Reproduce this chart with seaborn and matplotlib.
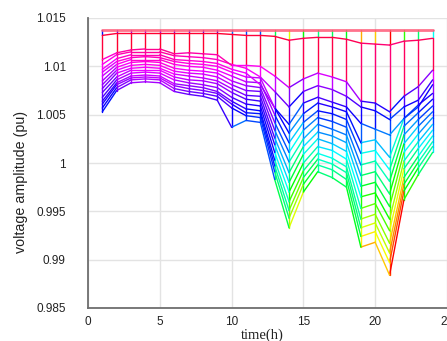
import matplotlib
matplotlib.use("Agg")
import matplotlib.pyplot as plt
import seaborn as sns
import pandas as pd

# ---- data ----
hours = [1, 2, 3, 4, 5, 6, 7, 8, 9, 10, 11, 12, 13, 14, 15, 16, 17, 18, 19, 20, 21, 22, 23, 24]

bus_source = [1.0138, 1.0138, 1.0138, 1.0138, 1.0138, 1.0138, 1.0138, 1.0138, 1.0138, 1.0138, 1.0138, 1.0138,
              1.0138, 1.0138, 1.0138, 1.0138, 1.0138, 1.0138, 1.0138, 1.0138, 1.0138, 1.0138, 1.0138, 1.0138]
bus_02 = [1.0132, 1.0134, 1.0134, 1.0134, 1.0134, 1.0134, 1.0134, 1.0134, 1.0134, 1.0133, 1.0132, 1.0132,
          1.0131, 1.0127, 1.0129, 1.0130, 1.0130, 1.0128, 1.0124, 1.0123, 1.0122, 1.0126, 1.0127, 1.0129]
bus_03 = [1.0107, 1.0114, 1.0117, 1.0118, 1.0118, 1.0113, 1.0114, 1.0113, 1.0112, 1.0101, 1.0101, 1.0100,
          1.0090, 1.0078, 1.0087, 1.0093, 1.0089, 1.0084, 1.0064, 1.0062, 1.0053, 1.0069, 1.0079, 1.0096]
bus_04 = [1.0102, 1.0112, 1.0115, 1.0115, 1.0115, 1.0111, 1.0110, 1.0109, 1.0107, 1.0102, 1.0098, 1.0089,
          1.0074, 1.0058, 1.0074, 1.0080, 1.0076, 1.0069, 1.0058, 1.0054, 1.0045, 1.0058, 1.0065, 1.0086]
bus_05 = [1.0097, 1.0108, 1.0112, 1.0112, 1.0112, 1.0107, 1.0106, 1.0105, 1.0103, 1.0097, 1.0093, 1.0081,
          1.0057, 1.0040, 1.0062, 1.0068, 1.0063, 1.0058, 1.0041, 1.0035, 1.0029, 1.0046, 1.0058, 1.0081]
bus_06 = [1.0094, 1.0105, 1.0109, 1.0110, 1.0109, 1.0105, 1.0103, 1.0102, 1.0100, 1.0094, 1.0089, 1.0088,
          1.0057, 1.0031, 1.0051, 1.0062, 1.0058, 1.0053, 1.0021, 1.0024, 1.0006, 1.0046, 1.0060, 1.0072]
bus_07 = [1.0090, 1.0102, 1.0107, 1.0107, 1.0107, 1.0102, 1.0100, 1.0099, 1.0096, 1.0090, 1.0084, 1.0083,
          1.0050, 1.0021, 1.0042, 1.0054, 1.0051, 1.0045, 1.0010, 1.0013, 0.9993, 1.0038, 1.0052, 1.0066]
bus_08 = [1.0085, 1.0099, 1.0104, 1.0105, 1.0104, 1.0098, 1.0096, 1.0095, 1.0093, 1.0085, 1.0080, 1.0078,
          1.0042, 1.0011, 1.0034, 1.0047, 1.0043, 1.0037, 0.9998, 1.0002, 0.9981, 1.0029, 1.0045, 1.0059]
bus_09 = [1.0081, 1.0096, 1.0101, 1.0102, 1.0101, 1.0095, 1.0093, 1.0092, 1.0089, 1.0081, 1.0075, 1.0074,
          1.0034, 1.0001, 1.0025, 1.0040, 1.0035, 1.0029, 0.9987, 0.9991, 0.9968, 1.0020, 1.0038, 1.0053]
bus_10 = [1.0077, 1.0093, 1.0098, 1.0099, 1.0098, 1.0092, 1.0090, 1.0088, 1.0085, 1.0077, 1.0070, 1.0069,
          1.0026, 0.9990, 1.0017, 1.0032, 1.0028, 1.0021, 0.9976, 0.9980, 0.9955, 1.0011, 1.0030, 1.0047]
bus_11 = [1.0073, 1.0089, 1.0096, 1.0096, 1.0096, 1.0089, 1.0086, 1.0085, 1.0082, 1.0073, 1.0066, 1.0064,
          1.0019, 0.9980, 1.0009, 1.0025, 1.0020, 1.0012, 0.9965, 0.9969, 0.9942, 1.0002, 1.0022, 1.0040]
bus_12 = [1.0068, 1.0086, 1.0093, 1.0094, 1.0093, 1.0086, 1.0083, 1.0081, 1.0078, 1.0068, 1.0061, 1.0059,
          1.0011, 0.9970, 1.0000, 1.0017, 1.0013, 1.0004, 0.9953, 0.9958, 0.9930, 0.9994, 1.0015, 1.0034]
bus_13 = [1.0064, 1.0083, 1.0090, 1.0091, 1.0090, 1.0082, 1.0080, 1.0078, 1.0074, 1.0064, 1.0056, 1.0054,
          1.0003, 0.9960, 0.9992, 1.0010, 1.0005, 0.9996, 0.9942, 0.9947, 0.9917, 0.9985, 1.0007, 1.0028]
bus_14 = [1.0061, 1.0081, 1.0088, 1.0089, 1.0088, 1.0080, 1.0077, 1.0075, 1.0072, 1.0061, 1.0052, 1.0051,
          0.9997, 0.9951, 0.9985, 1.0004, 0.9999, 0.9990, 0.9933, 0.9938, 0.9907, 0.9978, 1.0001, 1.0022]
bus_15 = [1.0057, 1.0078, 1.0086, 1.0087, 1.0086, 1.0077, 1.0074, 1.0072, 1.0069, 1.0057, 1.0049, 1.0047,
          0.9991, 0.9943, 0.9978, 0.9998, 0.9993, 0.9983, 0.9924, 0.9929, 0.9897, 0.9971, 0.9995, 1.0017]
bus_16 = [1.0053, 1.0075, 1.0083, 1.0084, 1.0083, 1.0074, 1.0071, 1.0069, 1.0065, 1.0037, 1.0044, 1.0042,
          0.9983, 0.9933, 0.9970, 0.9991, 0.9985, 0.9975, 0.9913, 0.9918, 0.9884, 0.9962, 0.9988, 1.0011]

buses = [bus_02, bus_03, bus_04, bus_05, bus_06, bus_07, bus_08, bus_09,
         bus_10, bus_11, bus_12, bus_13, bus_14, bus_15, bus_16]

x_ticks = [0, 5, 10, 15, 20, 25]
y_ticks = [0.985, 0.99, 0.995, 1.0, 1.005, 1.01, 1.015]
y_ticklabels = ["0.985", "0.99", "0.995", "1", "1.005", "1.01", "1.015"]

all_rows = [bus_source] + buses
vmin = min(min(r) for r in all_rows)
vmax = max(max(r) for r in all_rows)

# ---- build mesh-like segments (colour = value at first vertex) ----
vert_recs = []
seg = 0
for j, h in enumerate(hours):
    col = sorted([r[j] for r in all_rows], reverse=True)
    for k in range(len(col) - 1):
        c = col[-1] if k == 0 else col[k]
        vert_recs.append({"seg": seg, "x": h, "y": col[k], "c": c})
        vert_recs.append({"seg": seg, "x": h, "y": col[k + 1], "c": c})
        seg += 1
vert_df = pd.DataFrame(vert_recs)

hor_recs = []
for r in buses:
    for j in range(len(hours) - 1):
        c = r[j]
        hor_recs.append({"seg": seg, "x": hours[j], "y": r[j], "c": c})
        hor_recs.append({"seg": seg, "x": hours[j + 1], "y": r[j + 1], "c": c})
        seg += 1
hor_df = pd.DataFrame(hor_recs)
top_df = pd.DataFrame({"x": hours, "y": bus_source})

# ---- figure ----
sns.set_style("white")
plt.rcParams["font.family"] = ["Liberation Sans", "DejaVu Sans"]

fig = plt.figure(figsize=(4.47, 3.41), dpi=100)
ax = fig.add_axes([88 / 447, 33 / 341, 359 / 447, 290 / 341])

sns.lineplot(data=vert_df, x="x", y="y", units="seg", estimator=None, hue="c",
             palette="hsv", hue_norm=(vmin, vmax), legend=False, sort=False,
             linewidth=1.0, ax=ax)
sns.lineplot(data=hor_df, x="x", y="y", units="seg", estimator=None, hue="c",
             palette="hsv", hue_norm=(vmin, vmax), legend=False, sort=False,
             linewidth=1.0, ax=ax)
sns.lineplot(data=top_df, x="x", y="y", color="#ff5a78", linewidth=2.0, alpha=0.85,
             estimator=None, ax=ax)

ax.set_xlim(0, 25)
ax.set_ylim(0.985, 1.015)
ax.set_xticks(x_ticks)
ax.set_xticklabels([str(t) for t in x_ticks])
ax.set_yticks(y_ticks)
ax.set_yticklabels(y_ticklabels)

ax.grid(True, color="#e3e3e3", linewidth=1.0)
ax.set_axisbelow(True)
for s in ["top", "right"]:
    ax.spines[s].set_visible(False)
for s in ["left", "bottom"]:
    ax.spines[s].set_color("#6e6e6e")
    ax.spines[s].set_linewidth(1.3)

ax.tick_params(axis="both", direction="in", length=4, width=1.0, color="#404040",
               labelsize=8.5, labelcolor="#222222")
ax.tick_params(axis="y", pad=16)
ax.tick_params(axis="x", pad=6)

ax.set_ylabel("voltage amplitude (pu)", fontsize=10.3, color="#222222")
ax.yaxis.set_label_coords(-0.167, 0.434)
ax.set_xlabel("time(h)", fontsize=10.5, family=["Liberation Serif", "DejaVu Serif"],
              color="#222222")
ax.xaxis.set_label_coords(0.485, -0.07)

fig.savefig("out.png", dpi=100)
